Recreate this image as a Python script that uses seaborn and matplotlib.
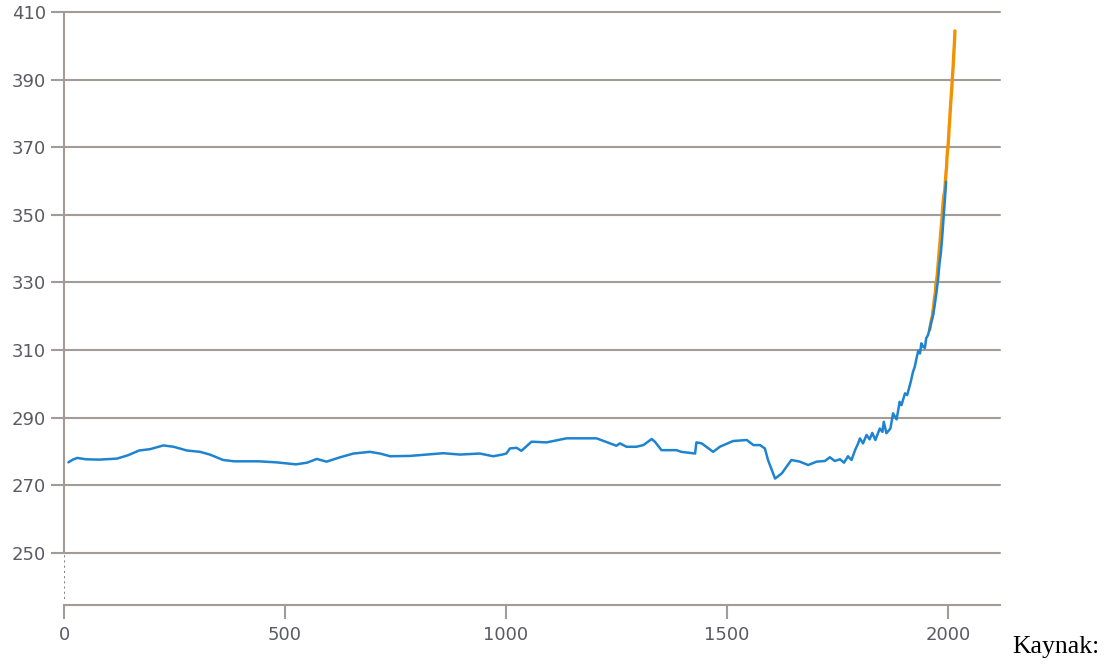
import matplotlib
matplotlib.use('Agg')
import matplotlib.pyplot as plt
import seaborn as sns
import pandas as pd

# ice core record (blue)
ice_years = [10, 20, 30, 50, 80, 120, 145, 170, 195, 225, 248, 278, 308, 330, 360, 385,
             440, 480, 525, 550, 572, 594, 625, 655, 692, 715, 738, 783, 821, 858, 896,
             941, 971, 992, 1001, 1009, 1024, 1035, 1058, 1092, 1137, 1205, 1250, 1258,
             1273, 1295, 1311, 1330, 1337, 1352, 1386, 1397, 1428, 1431, 1443, 1469, 1484,
             1514, 1545, 1560, 1575, 1586, 1593, 1609, 1624, 1646, 1665, 1684, 1703, 1722,
             1733, 1744, 1756, 1765, 1774, 1782, 1790, 1797, 1801, 1808, 1816, 1823, 1829,
             1836, 1846, 1852, 1855, 1861, 1870, 1876, 1884, 1891, 1895, 1903, 1908, 1916,
             1921, 1925, 1929, 1933, 1937, 1940, 1944, 1948, 1951, 1955, 1959, 1963, 1967,
             1971, 1974, 1978, 1981, 1984, 1987, 1990, 1993, 1996]
ice_ppm = [276.8, 277.6, 278.1, 277.7, 277.6, 277.9, 278.9, 280.3, 280.7, 281.8, 281.4,
           280.3, 279.9, 279.1, 277.5, 277.1, 277.1, 276.8, 276.2, 276.7, 277.8, 277.0,
           278.3, 279.4, 279.9, 279.4, 278.6, 278.7, 279.1, 279.5, 279.1, 279.4, 278.6,
           279.1, 279.4, 280.9, 281.1, 280.2, 282.9, 282.7, 283.9, 283.9, 281.7, 282.4,
           281.4, 281.4, 281.9, 283.7, 282.9, 280.4, 280.4, 279.9, 279.4, 282.7, 282.4,
           279.9, 281.4, 283.1, 283.4, 281.9, 281.9, 280.9, 277.5, 272.0, 273.5, 277.5,
           277.0, 276.0, 277.0, 277.2, 278.3, 277.2, 277.7, 276.7, 278.6, 277.5, 280.4,
           282.4, 283.9, 282.4, 284.9, 283.6, 285.5, 283.4, 286.8, 285.8, 288.8, 285.4,
           286.8, 291.3, 289.5, 294.7, 293.7, 297.2, 296.7, 300.6, 303.5, 305.0, 307.5,
           309.8, 309.0, 312.0, 311.0, 310.6, 313.5, 314.4, 316.4, 318.5, 320.5, 324.0,
           326.8, 331.0, 335.5, 338.5, 343.0, 348.5, 354.0, 359.8]

# direct measurements (orange)
obs_years = list(range(1959, 2017))
obs_ppm = [315.97, 316.91, 317.64, 318.45, 318.99, 319.62, 320.04, 321.37, 322.18, 323.05,
           324.62, 325.68, 326.32, 327.46, 329.68, 330.19, 331.13, 332.03, 333.84, 335.41,
           336.84, 338.76, 340.12, 341.48, 343.15, 344.87, 346.35, 347.61, 349.31, 351.69,
           353.20, 354.45, 355.70, 356.54, 357.21, 358.96, 360.97, 362.74, 363.88, 366.84,
           368.54, 369.71, 371.32, 373.45, 375.98, 377.70, 379.98, 382.09, 384.02, 385.83,
           387.64, 390.10, 391.85, 394.06, 396.74, 398.87, 401.01, 404.41]

y_ticks = [250, 270, 290, 310, 330, 350, 370, 390, 410]
x_ticks = [0, 500, 1000, 1500, 2000]

ice = pd.DataFrame({'year': ice_years, 'ppm': ice_ppm})
obs = pd.DataFrame({'year': obs_years, 'ppm': obs_ppm})

sns.set_style('white')
plt.rcParams['font.family'] = ['DejaVu Sans']

grey = '#a39b96'
label_col = '#5a5a63'
ylo, yhi = 234.6, 410

fig = plt.figure(figsize=(11.14, 6.64), dpi=100)
ax = fig.add_axes([64 / 1114, 59 / 664, 936 / 1114, 593 / 664])

sns.lineplot(x='year', y='ppm', data=obs, ax=ax, color='#f39200', linewidth=2.4)
sns.lineplot(x='year', y='ppm', data=ice, ax=ax, color='#1f84cf', linewidth=1.8)

ax.set_xlim(0, 2118)
ax.set_ylim(ylo, yhi)
ax.set_xticks(x_ticks)
ax.set_yticks(y_ticks)
ax.set_xlabel('')
ax.set_ylabel('')

ax.yaxis.grid(True, color=grey, linewidth=1.5)
ax.xaxis.grid(False)
for gl in ax.get_ygridlines():
    gl.set_clip_on(False)
ax.set_axisbelow(True)

for side in ['top', 'right']:
    ax.spines[side].set_visible(False)
ax.spines['left'].set_color(grey)
ax.spines['left'].set_linewidth(1.5)
ax.spines['left'].set_bounds(250, 410)
ax.spines['bottom'].set_color(grey)
ax.spines['bottom'].set_linewidth(1.5)

# dotted stub below 250
ax.axvline(0, ymin=0.01, ymax=(250 - ylo) / (yhi - ylo), color='#8a8380',
           linestyle=(0, (1, 1.5)), linewidth=1.5)

ax.tick_params(axis='y', left=True, length=9.5, width=1.5, color=grey, pad=3.5,
               labelsize=13, labelcolor=label_col)
ax.tick_params(axis='x', bottom=True, length=10, width=1.5, color=grey, pad=5,
               labelsize=13, labelcolor=label_col)

fig.text(1012 / 1114, 11 / 664, 'Kaynak:', family='Liberation Serif', size=18.5,
         va='baseline', color='black')

fig.savefig('out.png', dpi=100)
